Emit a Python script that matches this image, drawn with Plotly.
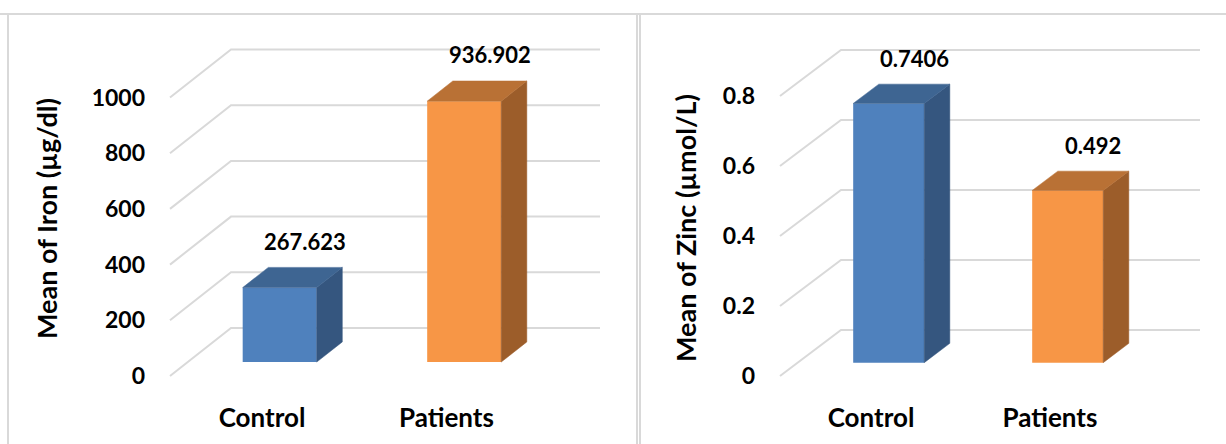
import plotly.graph_objects as go

# ---- data -----------------------------------------------------------------
categories = ["Control", "Patients"]
iron_values = [267.623, 936.902]
zinc_values = [0.7406, 0.492]
iron_ticks = [0, 200, 400, 600, 800, 1000]
iron_tick_text = ["0", "200", "400", "600", "800", "1000"]
zinc_ticks = [0, 0.2, 0.4, 0.6, 0.8]
zinc_tick_text = ["0", "0.2", "0.4", "0.6", "0.8"]
iron_value_text = ["267.623", "936.902"]
zinc_value_text = ["0.7406", "0.492"]
iron_title = "Mean of Iron (µg/dl)"
zinc_title = "Mean of Zinc (µmol/L)"

# front / side / top shades for each category
front_colors = ["#4F81BD", "#F79646"]
side_colors = ["#35567F", "#9C5D2A"]
top_colors = ["#3E6592", "#B97135"]

# ---- page geometry (pixels) -----------------------------------------------
W, H = 1226, 444
PLOT_BOTTOM = 400          # bottom edge of both plot areas
D_FRONT, D_BACK = 0.29, 0.71   # depth slice occupied by the columns
GRID = "#D9D9D9"
FONT = "Lato"


def bold(size):
    return dict(family=FONT, size=size, color="#000000", weight="bold")


panels = [
    dict(values=iron_values, ticks=iron_ticks, tick_text=iron_tick_text,
         value_text=iron_value_text, title=iron_title, xa="x", ya="y",
         left=152, right=620, cat0=262, step=184.5, zero=376, scale=0.2785,
         depth_x=61, depth_y=48, bar_w=74, wall_from=170, wall_to=600,
         title_x=47, title_y=219),
    dict(values=zinc_values, ticks=zinc_ticks, tick_text=zinc_tick_text,
         value_text=zinc_value_text, title=zinc_title, xa="x2", ya="y2",
         left=762, right=1226, cat0=871, step=179, zero=376, scale=350,
         depth_x=61, depth_y=46, bar_w=71, wall_from=780, wall_to=1200,
         title_x=685, title_y=228),
]

fig = go.Figure()
annotations = []
shapes = []
layout_axes = {}

for p in panels:
    def cx(px, p=p):
        return (px - p["cat0"]) / p["step"]

    def vy(py, p=p):
        return (p["zero"] - py) / p["scale"]

    dxc = p["depth_x"] / p["step"]
    dyv = p["depth_y"] / p["scale"]
    bw = p["bar_w"] / p["step"]
    xa, ya = p["xa"], p["ya"]

    # side wall + back wall gridlines, kept underneath the columns
    wf, wt = cx(p["wall_from"]), cx(p["wall_to"])
    for t in p["ticks"]:
        shapes.append(dict(
            type="path", xref=xa, yref=ya, layer="below",
            path=f"M {wf},{t} L {wf + dxc},{t + dyv} L {wt},{t + dyv}",
            line=dict(color=GRID, width=2)))

    ddx = (D_BACK - D_FRONT) * dxc
    ddy = (D_BACK - D_FRONT) * dyv
    base = D_FRONT * dyv
    for i, v in enumerate(p["values"]):
        xc = i + D_FRONT * dxc
        xl, xr = xc - bw / 2, xc + bw / 2
        top = base + v
        # side face
        fig.add_trace(go.Scatter(
            x=[xr, xr, xr + ddx, xr + ddx, xr],
            y=[base, top, top + ddy, base + ddy, base],
            mode="lines", fill="toself", fillcolor=side_colors[i],
            line=dict(color=side_colors[i], width=0.5), xaxis=xa, yaxis=ya,
            hoverinfo="skip", showlegend=False))
        # top face
        fig.add_trace(go.Scatter(
            x=[xl, xr, xr + ddx, xl + ddx, xl],
            y=[top, top, top + ddy, top + ddy, top],
            mode="lines", fill="toself", fillcolor=top_colors[i],
            line=dict(color=top_colors[i], width=0.5), xaxis=xa, yaxis=ya,
            hoverinfo="skip", showlegend=False))
        annotations.append(dict(
            x=xc + ddx, y=top + ddy, xref=xa, yref=ya, text=p["value_text"][i],
            showarrow=False, xanchor="center", yanchor="middle", yshift=26,
            font=bold(22)))

    # front faces of the columns
    fig.add_trace(go.Bar(
        x=[i + D_FRONT * dxc for i in range(len(p["values"]))],
        y=p["values"], base=[base] * len(p["values"]), width=bw,
        marker=dict(color=front_colors, line=dict(width=0)),
        xaxis=xa, yaxis=ya, hoverinfo="skip", showlegend=False))

    annotations.append(dict(
        x=p["title_x"] / W, y=1 - p["title_y"] / H, xref="paper", yref="paper",
        text=p["title"], textangle=-90, showarrow=False,
        xanchor="center", yanchor="middle", font=bold(27)))

    xkey = "xaxis" if xa == "x" else "xaxis2"
    ykey = "yaxis" if ya == "y" else "yaxis2"
    layout_axes[xkey] = dict(
        domain=[p["left"] / W, p["right"] / W], anchor=ya,
        range=[cx(p["left"]), cx(p["right"])],
        tickmode="array", tickvals=list(range(len(categories))),
        ticktext=categories, showgrid=False, zeroline=False, showline=False,
        ticks="", fixedrange=True, tickfont=bold(26))
    layout_axes[ykey] = dict(
        domain=[1 - PLOT_BOTTOM / H, 1], anchor=xa,
        range=[vy(PLOT_BOTTOM), vy(0)],
        tickmode="array", tickvals=p["ticks"], ticktext=p["tick_text"],
        showgrid=False, zeroline=False, showline=False, ticks="",
        fixedrange=True, ticklabelstandoff=6, tickfont=bold(23))

# chart frames
frame = dict(type="line", xref="paper", yref="paper",
             line=dict(color=GRID, width=2))
shapes += [
    dict(frame, x0=0, x1=1, y0=1 - 14 / H, y1=1 - 14 / H),
    dict(frame, x0=8 / W, x1=8 / W, y0=0, y1=1 - 14 / H),
    dict(frame, x0=637 / W, x1=637 / W, y0=0, y1=1 - 14 / H),
    dict(frame, x0=640 / W, x1=640 / W, y0=0, y1=1 - 14 / H),
]

fig.update_layout(
    width=W, height=H, margin=dict(l=0, r=0, t=0, b=0),
    paper_bgcolor="#FFFFFF", plot_bgcolor="rgba(0,0,0,0)",
    showlegend=False, annotations=annotations, shapes=shapes,
    **layout_axes)

fig.write_html("out.html", config={"displayModeBar": False})
